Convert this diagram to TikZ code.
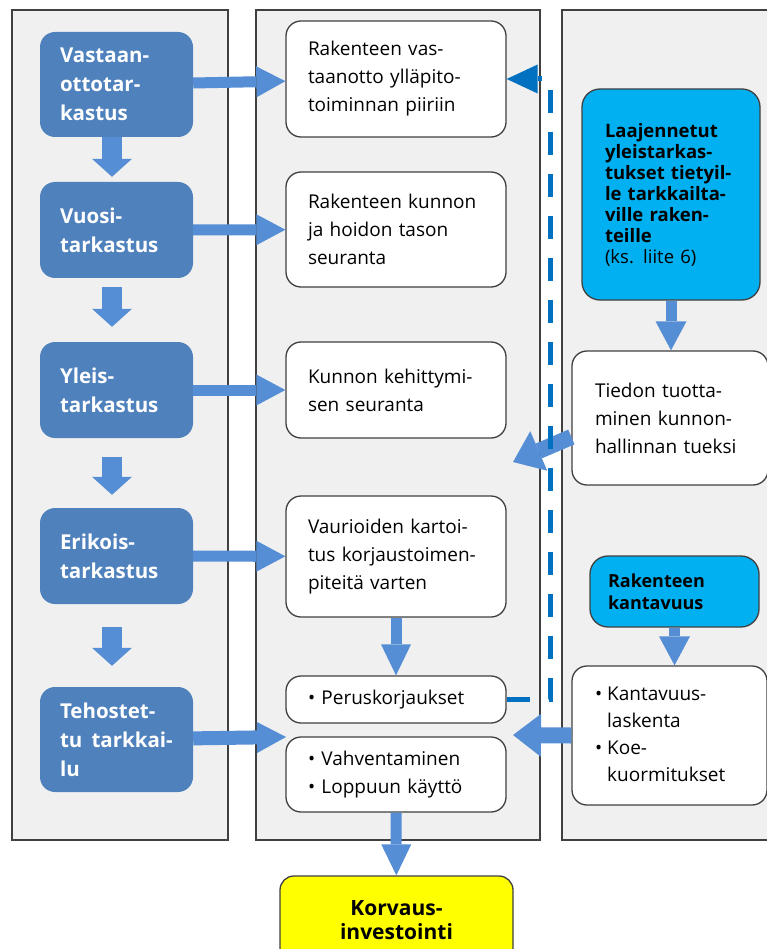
\documentclass[tikz,border=0pt]{standalone}
\usepackage{fontspec}
\setmainfont{Open Sans}
\usepackage{tikz}
\usetikzlibrary{arrows.meta}

\definecolor{panelgray}{HTML}{F0F0F0}
\definecolor{panelline}{HTML}{404040}
\definecolor{inspblue}{HTML}{4F81BD}
\definecolor{arrowblue}{HTML}{558ED5}
\definecolor{linkblue}{HTML}{0070C0}
\definecolor{extcyan}{HTML}{00B0F0}
\definecolor{korvyellow}{HTML}{FFFF00}

\tikzset{
  panel/.style={draw=panelline, fill=panelgray, line width=1.5pt},
  insp/.style={rectangle, rounded corners=15pt, fill=inspblue, text=white, align=left,
    font=\fontsize{20.5}{29}\selectfont\bfseries, text width=113pt, inner xsep=20pt, inner ysep=0pt},
  task/.style={rectangle, rounded corners=15pt, draw=panelline, line width=1.3pt, fill=white, align=left,
    font=\fontsize{19}{28}\selectfont, text width=176pt, inner xsep=22pt, inner ysep=0pt},
  ext/.style={rectangle, rounded corners=18pt, draw=panelline, line width=1.3pt, fill=extcyan,
    align=left, inner ysep=0pt},
  korvbox/.style={rectangle, rounded corners=14pt, draw=panelline, line width=1.3pt, fill=korvyellow,
    align=center, font=\fontsize{21}{24}\selectfont\bfseries, minimum width=233pt},
  sidearrow/.style={draw=arrowblue, line width=11pt, -{Triangle[width=31pt,length=29pt,line width=0pt]}},
  downarrow/.style={draw=arrowblue, line width=20pt, -{Triangle[width=40pt,length=18pt,line width=0pt]}},
  taskarrow/.style={draw=arrowblue, line width=11pt, -{Triangle[width=30pt,length=31pt,line width=0pt]}},
  bigarrow/.style={draw=arrowblue, line width=16pt, -{Triangle[width=43pt,length=28pt,line width=0pt]}},
  dashlink/.style={draw=linkblue, line width=5pt, dash pattern=on 23pt off 19pt,
    -{Triangle[width=29pt,length=31pt,line width=0pt]}}
}

\begin{document}
\begin{tikzpicture}[x=1pt,y=-1pt]
\useasboundingbox (0,0) rectangle (766,949);
\draw[panel] (12,10) rectangle (228,840);
\draw[panel] (256,10) rectangle (540,840);
\draw[panel] (562,10) rectangle (790,840);

\node[insp, minimum height=105pt] (vast) at (116.5,84.5) {Vastaan-\\ottotar-\\kastus};
\node[insp, minimum height=96pt] (vuosi) at (116.5,230) {Vuosi-\\tarkastus};
\node[insp, minimum height=96pt] (yleis) at (116.5,390) {Yleis-\\tarkastus};
\node[insp, minimum height=96pt] (erik) at (116.5,556) {Erikois-\\tarkastus};
\node[insp, minimum height=105pt] (tehost) at (116.5,739.5) {Tehostet-\\\mbox{tu\hspace{0.45em}tarkkai-}\\lu};

\node[task, minimum height=116pt] (recv) at (396,79) {Rakenteen vas-\\taanotto ylläpito-\\toiminnan piiriin};
\node[task, minimum height=115pt] (kunto) at (396,229.5) {Rakenteen kunnon\\ja hoidon tason\\seuranta};
\node[task, minimum height=96pt] (kehit) at (396,390) {Kunnon kehittymi-\\sen seuranta};
\node[task, minimum height=121pt] (vaur) at (396,556.5) {Vaurioiden kartoi-\\tus korjaustoimen-\\piteitä varten};
\node[task, minimum height=47pt] (perus) at (396,699.5) {\textbullet\ Peruskorjaukset};
\node[task, minimum height=75pt] (vahv) at (396,774.5) {\textbullet\ Vahventaminen\\\textbullet\ Loppuun käyttö};
\node[korvbox, minimum height=88pt] (korv) at (396.5,920) {Korvaus-\\investointi};

\node[ext, text width=132pt, inner xsep=23pt, minimum height=211pt, font=\fontsize{18.5}{21}\selectfont]
  (laaj) at (671,194.5) {\bfseries Laajennetut\\yleistarkas-\\tukset tietyil-\\le tarkkailta-\\ville raken-\\teille\\\mdseries (ks. liite 6)};
\node[task, text width=150pt, inner xsep=23pt, minimum height=134pt] (tiedon) at (670,418)
  {Tiedon tuotta-\\minen kunnon-\\hallinnan tueksi};
\node[ext, text width=133pt, inner xsep=18pt, minimum height=71pt, font=\fontsize{18}{22}\selectfont\bfseries]
  (kanta) at (674.5,591.5) {Rakenteen\\kantavuus};
\node[task, text width=149pt, inner xsep=23pt, minimum height=139pt, font=\fontsize{19}{27}\selectfont]
  (lask) at (669.5,735.5) {\begin{tabular}{@{}l@{\hspace{5pt}}l@{}}
    \textbullet & Kantavuus-\\ & laskenta\\ \textbullet & Koe-\\ & kuormitukset\end{tabular}};

\draw[downarrow] ([xshift=-4.5pt]vast.south) -- ([xshift=-4.5pt,yshift=5pt]vuosi.north);
\draw[downarrow] ([xshift=-4.5pt,yshift=-9pt]vuosi.south) -- ([xshift=-4.5pt,yshift=15pt]yleis.north);
\draw[downarrow] ([xshift=-4.5pt,yshift=-19pt]yleis.south) -- ([xshift=-4.5pt,yshift=13pt]erik.north);
\draw[downarrow] ([xshift=-4.5pt,yshift=-23pt]erik.south) -- ([xshift=-4.5pt,yshift=21pt]tehost.north);

\draw[sidearrow] (vast) -- (recv);
\draw[sidearrow] (vuosi) -- (kunto);
\draw[sidearrow] (yleis) -- (kehit);
\draw[sidearrow] (erik) -- (vaur);
\coordinate (tehtip) at (286,737);
\draw[sidearrow, line width=14pt] (tehost) -- (tehtip);

\draw[taskarrow] (vaur) -- (perus);
\draw[taskarrow] (vahv) -- (korv);

\draw[sidearrow] (laaj.south) -- (laaj.south |- tiedon.north);
\draw[sidearrow] (kanta.south) -- (kanta.south |- lask.north);

\coordinate (tiedtip) at (513,462);
\coordinate (lasktip) at (513,735);
\draw[bigarrow] ([yshift=-19pt]tiedon.west) -- (tiedtip);
\draw[bigarrow] (lask.west) -- (lasktip);

\coordinate (dtop) at (550,79);
\draw[dashlink] (perus.east) -| (dtop) -- (recv.east);
\end{tikzpicture}
\end{document}
